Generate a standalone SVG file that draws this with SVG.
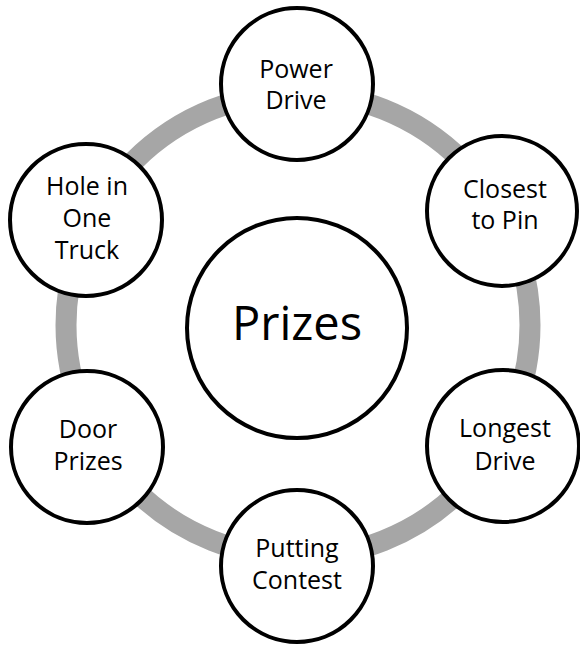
<svg xmlns="http://www.w3.org/2000/svg" width="580" height="645" viewBox="0 0 580 645">
<style>
.node{fill:#ffffff;stroke:#000000;stroke-width:4}
.lbl{font-family:"Open Sans","Liberation Sans",sans-serif;font-size:25px;fill:#000000;text-anchor:middle}
.big{font-family:"Open Sans","Liberation Sans",sans-serif;font-size:47px;fill:#000000;text-anchor:middle}
</style>
<rect width="580" height="645" fill="#ffffff"/>
<g id="connectors">
<circle cx="298" cy="325" r="232" fill="none" stroke="#A6A6A6" stroke-width="21"/>
</g>
<g id="center">
<circle class="node" cx="297" cy="328" r="110"/>
<text class="big" x="297" y="340">Prizes</text>
</g>
<g id="power-drive">
<circle class="node" cx="297" cy="84" r="76"/>
<text class="lbl" x="296" y="78">Power</text>
<text class="lbl" x="296" y="109">Drive</text>
</g>
<g id="closest-to-pin">
<circle class="node" cx="502" cy="211" r="75"/>
<text class="lbl" x="505" y="198">Closest</text>
<text class="lbl" x="505" y="229">to Pin</text>
</g>
<g id="longest-drive">
<circle class="node" cx="503" cy="446" r="76"/>
<text class="lbl" x="505" y="437">Longest</text>
<text class="lbl" x="505" y="470">Drive</text>
</g>
<g id="putting-contest">
<circle class="node" cx="297" cy="566" r="76"/>
<text class="lbl" x="297" y="557">Putting</text>
<text class="lbl" x="297" y="589">Contest</text>
</g>
<g id="door-prizes">
<circle class="node" cx="87" cy="447" r="76"/>
<text class="lbl" x="88" y="438">Door</text>
<text class="lbl" x="88" y="470">Prizes</text>
</g>
<g id="hole-in-one-truck">
<circle class="node" cx="86" cy="220" r="76"/>
<text class="lbl" x="87" y="195">Hole in</text>
<text class="lbl" x="87" y="227">One</text>
<text class="lbl" x="87" y="259">Truck</text>
</g>
</svg>
